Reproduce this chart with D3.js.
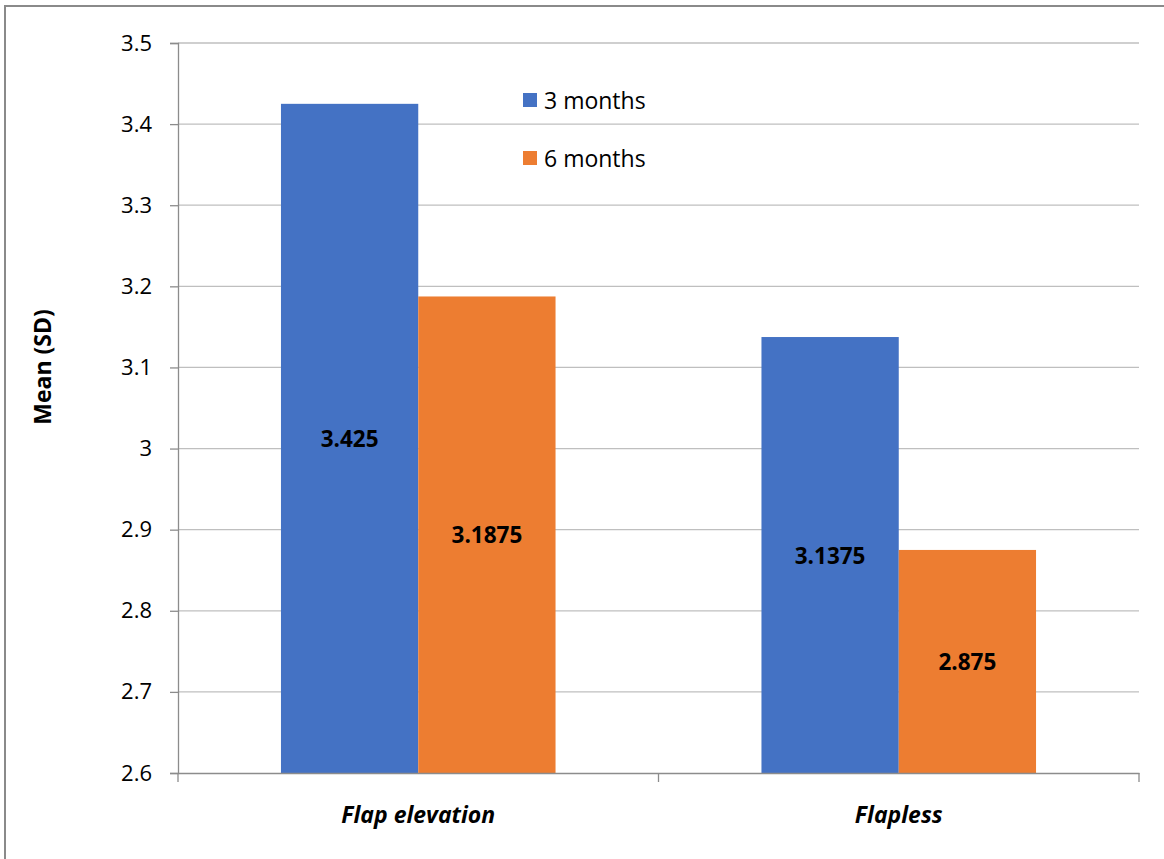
<!DOCTYPE html>
<html>
<head>
<meta charset="utf-8">
<script src="https://cdn.jsdelivr.net/npm/d3@7"></script>
<style>
  html, body { margin: 0; padding: 0; background: #fff; }
  svg { display: block; }
  text { font-family: "Open Sans", "Liberation Sans", sans-serif; fill: #000; }
</style>
</head>
<body>
<svg id="chart" width="1164" height="859"></svg>
<script>
// Chart data
const categories = ["Flap elevation", "Flapless"];
const seriesNames = ["3 months", "6 months"];
const months3 = [3.425, 3.1375];
const months6 = [3.1875, 2.875];
const yTicks = [2.6, 2.7, 2.8, 2.9, 3, 3.1, 3.2, 3.3, 3.4, 3.5];
const colors = ["#4472C4", "#ED7D31"];

const seriesValues = [months3, months6];

const svg = d3.select("#chart");
const W = 1164, H = 859;

// Outer frame
svg.append("rect")
  .attr("x", 5).attr("y", 6)
  .attr("width", W + 20).attr("height", H + 20)
  .attr("fill", "#fff")
  .attr("stroke", "#8a8a8a").attr("stroke-width", 2);

const plot = { left: 178, right: 1139, top: 43, bottom: 773 };

const x0 = d3.scaleBand()
  .domain(categories)
  .range([plot.left, plot.right])
  .paddingInner(0).paddingOuter(0);

// 150% gap width: each bar is group / (2 + 1.5)
const barW = x0.bandwidth() / 3.5;
const x1 = d3.scaleBand()
  .domain(seriesNames)
  .range([0, barW * 2]);

const y = d3.scaleLinear()
  .domain([2.6, 3.5])
  .range([plot.bottom, plot.top]);

// Gridlines
svg.append("g")
  .selectAll("line")
  .data(yTicks.filter(t => t !== 2.6))
  .join("line")
  .attr("x1", plot.left).attr("x2", plot.right)
  .attr("y1", d => y(d)).attr("y2", d => y(d))
  .attr("stroke", "#bfbfbf").attr("stroke-width", 1.3);

// Y axis
const yAxis = d3.axisLeft(y)
  .tickValues(yTicks)
  .tickSize(8)
  .tickPadding(18)
  .tickFormat(d => d3.format("")(+d.toFixed(1)));

const gy = svg.append("g")
  .attr("transform", `translate(${plot.left},0)`)
  .call(yAxis);
gy.select(".domain").attr("stroke", "#8c8c8c").attr("stroke-width", 1.3);
gy.selectAll(".tick line").attr("stroke", "#8c8c8c").attr("stroke-width", 1.3);
gy.selectAll(".tick text")
  .attr("font-family", "'Open Sans', sans-serif")
  .attr("font-size", 22)
  .attr("fill", "#000");

// Bars
const groups = svg.append("g")
  .selectAll("g")
  .data(categories)
  .join("g")
  .attr("transform", d => `translate(${x0(d) + x0.bandwidth() / 2 - barW},0)`);

groups.selectAll("rect")
  .data((c, i) => seriesNames.map((s, k) => ({ s, k, v: seriesValues[k][i] })))
  .join("rect")
  .attr("x", d => x1(d.s))
  .attr("y", d => y(d.v))
  .attr("width", x1.bandwidth())
  .attr("height", d => y(2.6) - y(d.v))
  .attr("fill", d => colors[d.k]);

// Value labels centred in each bar
groups.selectAll("text.val")
  .data((c, i) => seriesNames.map((s, k) => ({ s, k, v: seriesValues[k][i] })))
  .join("text")
  .attr("class", "val")
  .attr("x", d => x1(d.s) + x1.bandwidth() / 2)
  .attr("y", d => (y(d.v) + y(2.6)) / 2)
  .attr("text-anchor", "middle")
  .attr("dominant-baseline", "central")
  .attr("font-size", 22.5)
  .attr("font-weight", 700)
  .text(d => d.v);

// X axis
const xAxis = d3.axisBottom(x0).tickSize(0).tickFormat("");
const gx = svg.append("g")
  .attr("transform", `translate(0,${plot.bottom})`)
  .call(xAxis);
gx.select(".domain").attr("stroke", "#8c8c8c").attr("stroke-width", 1.3);

// Category separator ticks
const sepX = [plot.left, x0(categories[1]), plot.right];
svg.append("g")
  .selectAll("line")
  .data(sepX)
  .join("line")
  .attr("x1", d => d).attr("x2", d => d)
  .attr("y1", plot.bottom).attr("y2", plot.bottom + 9)
  .attr("stroke", "#8c8c8c").attr("stroke-width", 1.3);

// Category labels
svg.append("g")
  .selectAll("text")
  .data(categories)
  .join("text")
  .attr("x", d => x0(d) + x0.bandwidth() / 2)
  .attr("y", 823)
  .attr("text-anchor", "middle")
  .attr("font-size", 23)
  .attr("font-weight", 700)
  .attr("font-style", "italic")
  .text(d => d);

// Y axis title
svg.append("text")
  .attr("transform", "translate(51,367) rotate(-90)")
  .attr("text-anchor", "middle")
  .attr("font-size", 23)
  .attr("font-weight", 700)
  .text("Mean (SD)");

// Legend
const legend = svg.append("g")
  .selectAll("g")
  .data(seriesNames)
  .join("g")
  .attr("transform", (d, i) => `translate(523,${100 + i * 58})`);
legend.append("rect")
  .attr("x", 0).attr("y", -7)
  .attr("width", 14).attr("height", 14)
  .attr("fill", (d, i) => colors[i]);
legend.append("text")
  .attr("x", 21).attr("y", 0)
  .attr("dominant-baseline", "central")
  .attr("font-size", 23)
  .text(d => d);
</script>
</body>
</html>
